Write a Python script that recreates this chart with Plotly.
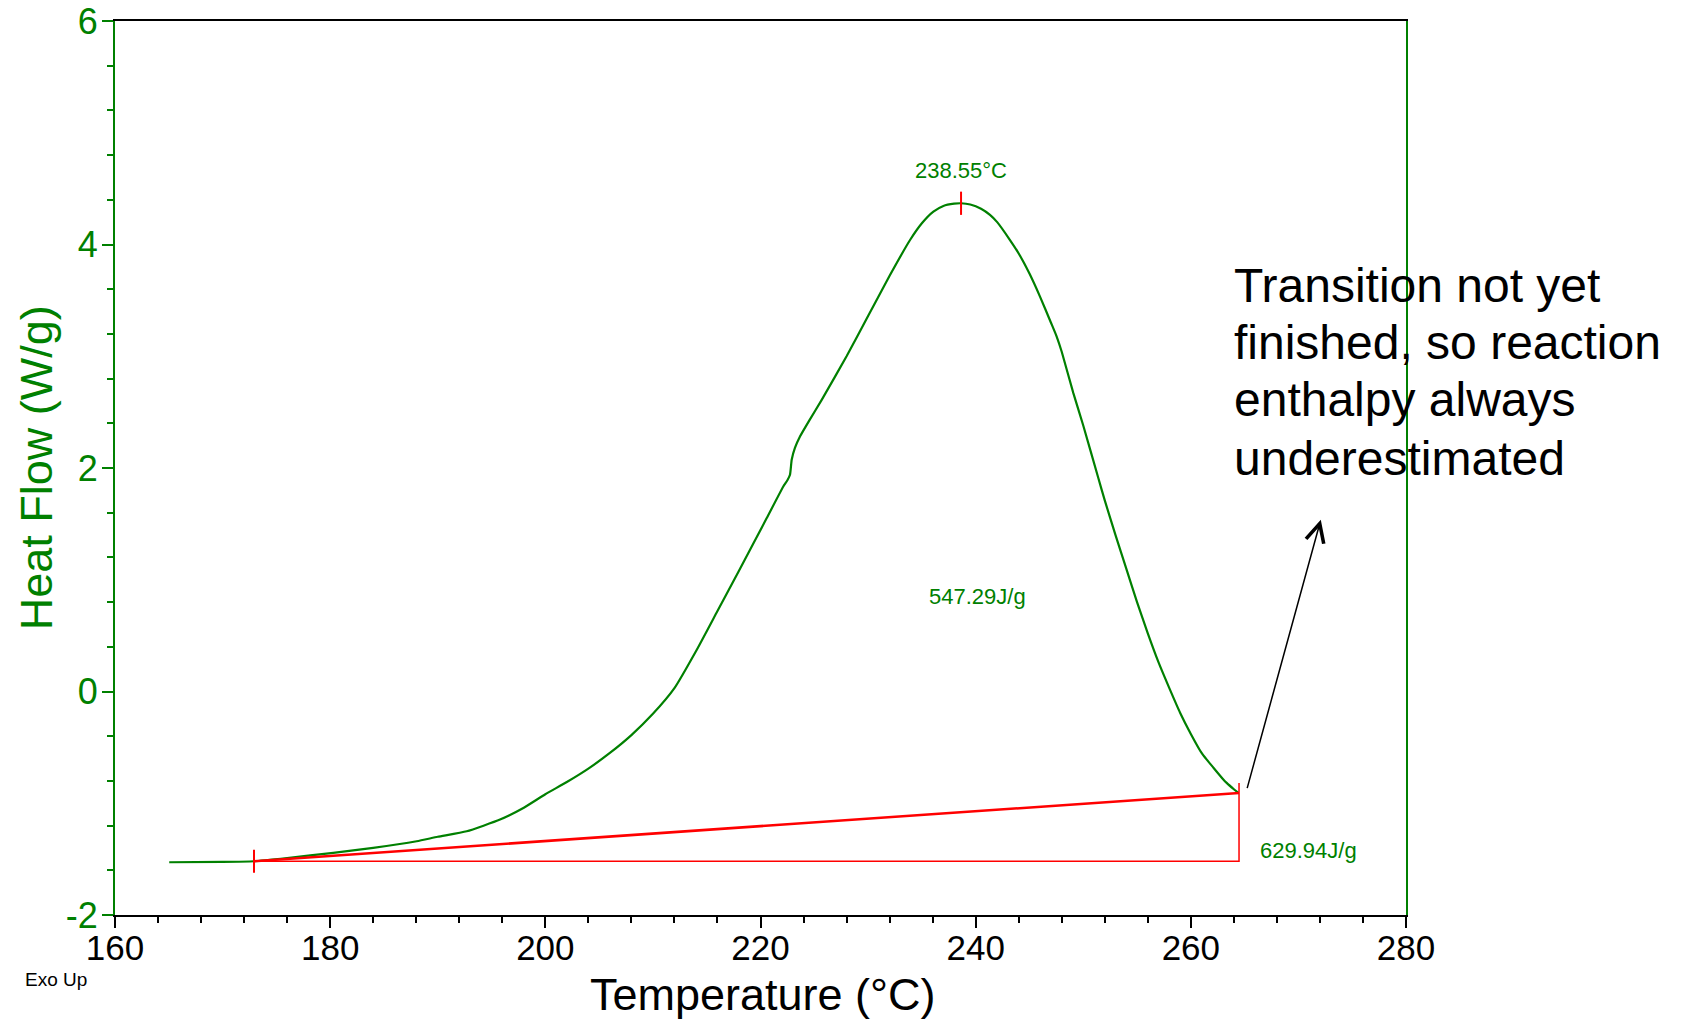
import plotly.graph_objects as go

# ---- data ----
temp_C = [165.04, 170.0, 172.9, 176.0, 180.29, 184.0, 188.04, 190.0, 192.69, 195.79,
          198.0, 200.0, 202.0, 204.0, 206.0, 208.0, 210.0, 212.0, 214.0, 216.0,
          218.0, 220.58, 222.12, 222.5, 222.74, 222.9, 223.2, 223.67, 224.5, 225.69,
          228.0, 230.0, 232.0, 233.9, 235.0, 236.07, 237.0, 238.0, 238.64, 239.5, 240.5,
          241.33, 242.0, 243.19, 244.0, 245.0, 245.98, 247.0, 247.53, 248.0, 249.08,
          250.0, 251.4, 252.0, 253.0, 254.0, 255.0, 256.0, 257.0, 258.0, 259.0,
          260.0, 261.0, 261.48, 262.0, 263.0, 263.33, 264.0, 264.42]
heat_flow = [-1.528, -1.525, -1.519, -1.49, -1.444, -1.40, -1.34, -1.30, -1.251, -1.146,
             -1.04, -0.92, -0.81, -0.69, -0.55, -0.39, -0.20, 0.03, 0.36, 0.72,
             1.08, 1.552, 1.835, 1.89, 1.939, 2.074, 2.18, 2.282, 2.42, 2.61,
             3.0, 3.36, 3.72, 4.04, 4.19, 4.294, 4.345, 4.365, 4.369, 4.358, 4.32,
             4.265, 4.2, 4.04, 3.92, 3.74, 3.534, 3.30, 3.176, 3.04, 2.67,
             2.38, 1.91, 1.71, 1.40, 1.10, 0.80, 0.52, 0.26, 0.03, -0.19,
             -0.38, -0.55, -0.61, -0.67, -0.785, -0.818, -0.875, -0.908]

x_ticks = [160, 180, 200, 220, 240, 260, 280]
x_ticktext = ["160", "180", "200", "220", "240", "260", "280"]
y_ticks = [-2, 0, 2, 4, 6]
y_ticktext = ["-2", "0", "2", "4", "6"]

onset_T = 172.92
end_T = 264.48
base_onset = -1.519
base_end = -0.908
end_mark_top = -0.818
peak_T = 238.64
peak_HF = 4.369
tick_half = 0.104

peak_label = "238.55°C"
area_label = "547.29J/g"
total_label = "629.94J/g"
note_lines = ["Transition not yet", "finished, so reaction", "enthalpy always", "underestimated"]
note_y = [3.634, 3.125, 2.610, 2.083]

GREEN = "#008000"
RED = "#ff0000"
FONT = "Liberation Sans, Arial, Helvetica, sans-serif"

fig = go.Figure()

fig.add_trace(go.Scatter(x=temp_C, y=heat_flow, mode="lines",
                         line=dict(color=GREEN, width=2.2, shape="spline", smoothing=0.5),
                         hoverinfo="skip"))
# integration baseline (sloped)
fig.add_trace(go.Scatter(x=[onset_T, end_T], y=[base_onset, base_end], mode="lines",
                         line=dict(color=RED, width=2.6), hoverinfo="skip"))
# horizontal + vertical limit lines
fig.add_trace(go.Scatter(x=[onset_T, end_T, end_T], y=[base_onset, base_onset, end_mark_top],
                         mode="lines", line=dict(color=RED, width=1.5), hoverinfo="skip"))
# onset tick
fig.add_trace(go.Scatter(x=[onset_T, onset_T], y=[base_onset + tick_half, base_onset - tick_half],
                         mode="lines", line=dict(color=RED, width=2), hoverinfo="skip"))
# peak tick
fig.add_trace(go.Scatter(x=[peak_T, peak_T], y=[peak_HF + tick_half, peak_HF - tick_half],
                         mode="lines", line=dict(color=RED, width=2), hoverinfo="skip"))

annotations = [
    dict(x=peak_T, y=4.658, xref="x", yref="y", text=peak_label, showarrow=False,
         font=dict(size=22, color=GREEN, family=FONT), xanchor="center", yanchor="middle"),
    dict(x=240.19, y=0.848, xref="x", yref="y", text=area_label, showarrow=False,
         font=dict(size=22, color=GREEN, family=FONT), xanchor="center", yanchor="middle"),
    dict(x=270.9, y=-1.424, xref="x", yref="y", text=total_label, showarrow=False,
         font=dict(size=22, color=GREEN, family=FONT), xanchor="center", yanchor="middle"),
    dict(x=-0.0713, y=-0.0727, xref="paper", yref="paper", text="Exo Up", showarrow=False,
         font=dict(size=19, color="black", family=FONT), xanchor="left", yanchor="middle"),
    dict(x=0.502, y=-0.0894, xref="paper", yref="paper", text="Temperature (°C)",
         showarrow=False, font=dict(size=45, color="black", family=FONT),
         xanchor="center", yanchor="middle"),
    dict(x=-0.061, y=0.5, xref="paper", yref="paper", text="Heat Flow (W/g)",
         showarrow=False, textangle=-90, font=dict(size=45, color=GREEN, family=FONT),
         xanchor="center", yanchor="middle"),
    dict(x=272.08, y=1.537, xref="x", yref="y", ax=265.2, ay=-0.878, axref="x", ayref="y",
         text="", showarrow=True, arrowhead=5, arrowsize=2.4, arrowwidth=1.5,
         arrowcolor="black", standoff=0, startstandoff=0),
]
for line, yy in zip(note_lines, note_y):
    annotations.append(dict(x=263.8, y=yy, xref="x", yref="y", text=line, showarrow=False,
                            font=dict(size=48, color="black", family=FONT),
                            xanchor="left", yanchor="middle"))

fig.update_layout(
    width=1681, height=1019,
    margin=dict(l=115, r=275, t=21, b=104, autoexpand=False),
    paper_bgcolor="white", plot_bgcolor="white",
    showlegend=False,
    font=dict(family=FONT),
    annotations=annotations,
    xaxis=dict(range=[160, 280], tickmode="array", tickvals=x_ticks, ticktext=x_ticktext,
               ticks="outside", ticklen=11, ticklabelstandoff=-10,
               tickwidth=1.5, tickcolor="black", showline=True, linecolor="black",
               linewidth=2, mirror=True, showgrid=False, zeroline=False,
               tickfont=dict(size=35, color="black", family=FONT),
               minor=dict(dtick=4, tick0=160, ticks="outside", ticklen=6, tickwidth=1.5,
                          tickcolor="black", showgrid=False)),
    yaxis=dict(range=[-2, 6], tickmode="array", tickvals=y_ticks, ticktext=y_ticktext,
               ticks="outside", ticklen=11, ticklabelstandoff=-3,
               tickwidth=1.5, tickcolor=GREEN, showline=True, linecolor=GREEN,
               linewidth=2, mirror=True, showgrid=False, zeroline=False,
               tickfont=dict(size=36, color=GREEN, family=FONT),
               minor=dict(dtick=0.4, tick0=0, ticks="outside", ticklen=6, tickwidth=1.5,
                          tickcolor=GREEN, showgrid=False)),
)

fig.write_html("out.html")
